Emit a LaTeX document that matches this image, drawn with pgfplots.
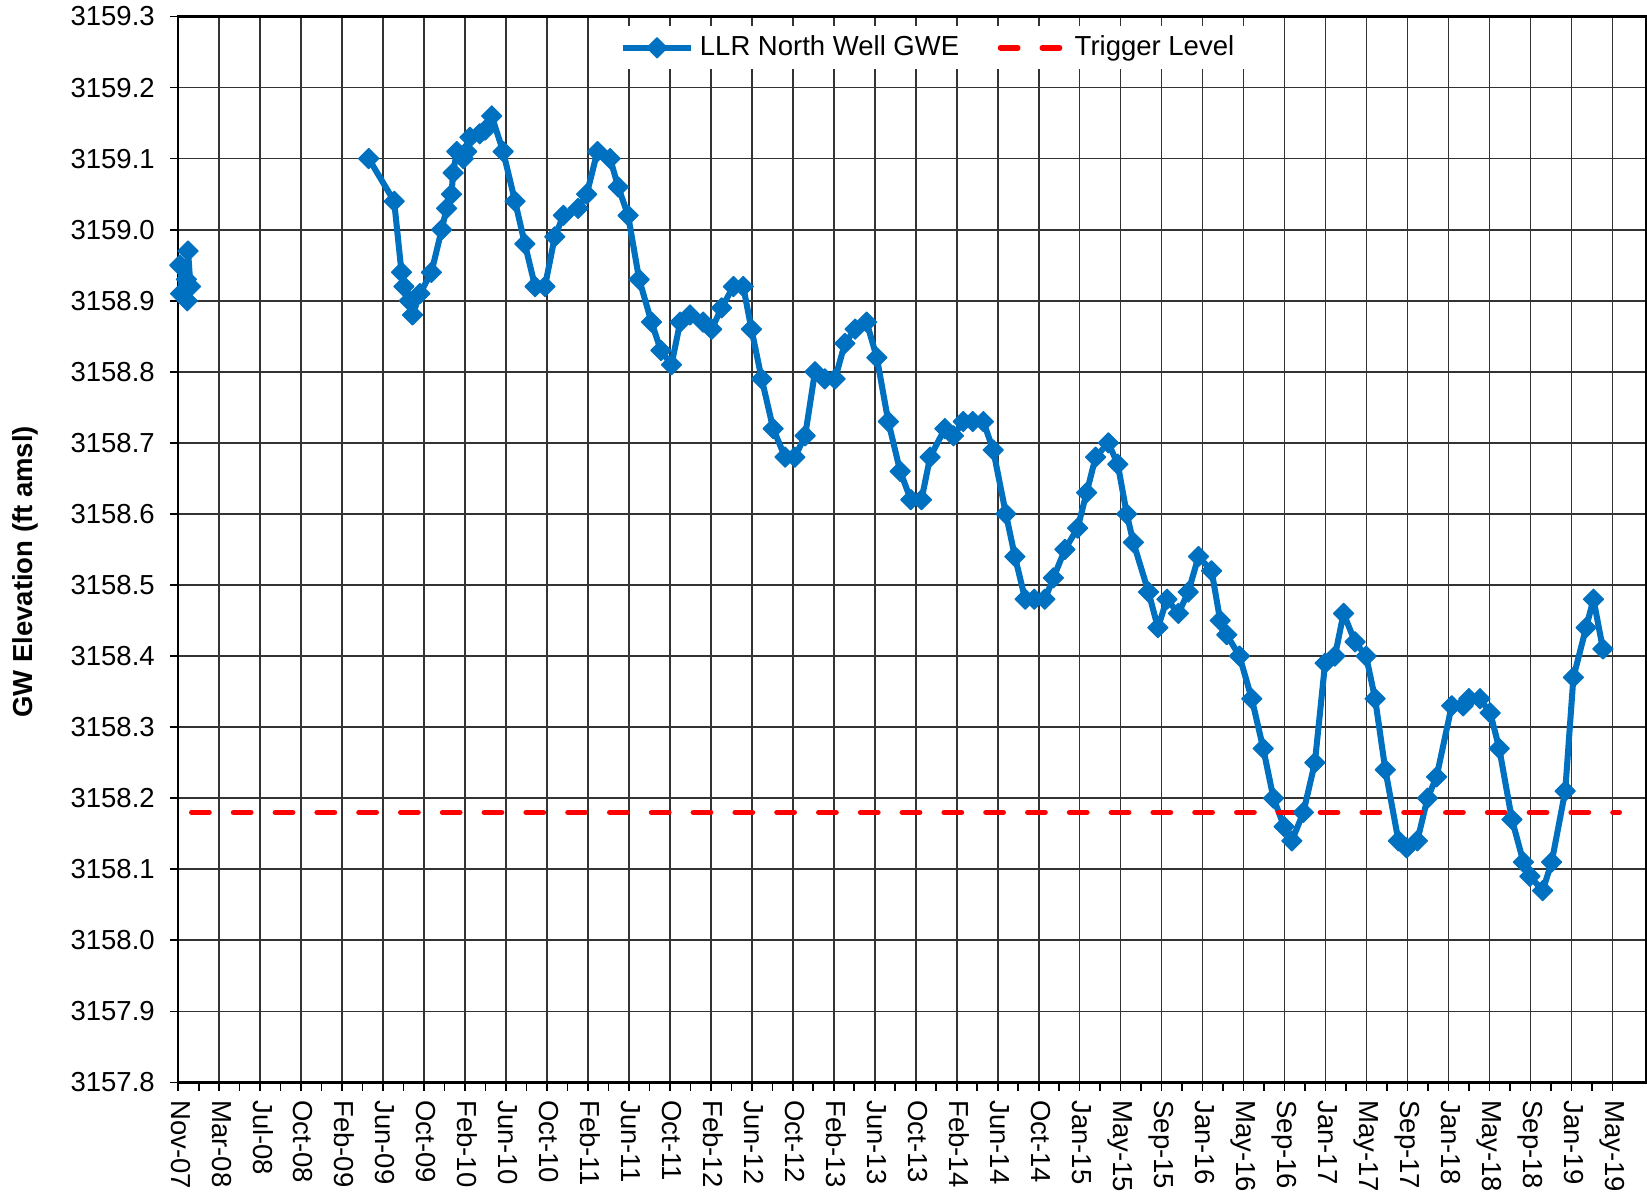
\documentclass[border=0pt]{standalone}
\usepackage{fontspec}
\setmainfont{Liberation Sans}
\usepackage{pgfplots}
\pgfplotsset{compat=1.18}
\usepackage{pgfplotstable}
\definecolor{xlblue}{RGB}{0,112,192}

\pgfplotsset{
  bluelegend/.style={legend image code/.code={\draw[##1, mark repeat=2, mark phase=2] plot coordinates {(0pt,0pt)(12.5pt,0pt)(25pt,0pt)};}},
  redlegend/.style={legend image code/.code={\draw[##1] (0pt,0pt) -- (24pt,0pt);}},
}

\pgfplotstableread{
x y
0.04 3158.95
0.06 3158.91
0.20 3158.93
0.22 3158.90
0.24 3158.97
0.30 3158.92
2.50 nan
4.65 3159.10
5.27 3159.04
5.45 3158.94
5.51 3158.92
5.64 3158.90
5.72 3158.88
5.90 3158.91
6.18 3158.94
6.43 3159.00
6.55 3159.03
6.67 3159.05
6.71 3159.08
6.80 3159.11
6.96 3159.10
7.04 3159.11
7.12 3159.13
7.36 3159.135
7.49 3159.14
7.65 3159.16
7.93 3159.11
8.22 3159.04
8.46 3158.98
8.71 3158.92
8.95 3158.92
9.19 3158.99
9.40 3159.02
9.76 3159.03
9.97 3159.05
10.23 3159.11
10.54 3159.10
10.74 3159.06
10.98 3159.02
11.25 3158.93
11.55 3158.87
11.78 3158.83
12.04 3158.81
12.25 3158.87
12.49 3158.88
12.81 3158.87
13.02 3158.86
13.26 3158.89
13.55 3158.92
13.79 3158.92
13.99 3158.86
14.24 3158.79
14.52 3158.72
14.81 3158.68
15.05 3158.68
15.30 3158.71
15.54 3158.80
15.78 3158.79
16.03 3158.79
16.27 3158.84
16.52 3158.86
16.80 3158.87
17.05 3158.82
17.33 3158.73
17.62 3158.66
17.88 3158.62
18.14 3158.62
18.35 3158.68
18.71 3158.72
18.92 3158.71
19.16 3158.73
19.39 3158.73
19.65 3158.73
19.89 3158.69
20.20 3158.60
20.42 3158.54
20.67 3158.48
20.89 3158.48
21.15 3158.48
21.36 3158.51
21.64 3158.55
21.95 3158.58
22.17 3158.63
22.39 3158.68
22.70 3158.70
22.93 3158.67
23.15 3158.60
23.31 3158.56
23.68 3158.49
23.91 3158.44
24.13 3158.48
24.41 3158.46
24.65 3158.49
24.90 3158.54
25.22 3158.52
25.43 3158.45
25.59 3158.43
25.90 3158.40
26.20 3158.34
26.48 3158.27
26.73 3158.20
26.99 3158.16
27.18 3158.14
27.46 3158.18
27.74 3158.25
27.99 3158.39
28.23 3158.40
28.44 3158.46
28.72 3158.42
28.99 3158.40
29.21 3158.34
29.46 3158.24
29.78 3158.14
29.98 3158.13
30.24 3158.14
30.49 3158.20
30.71 3158.23
31.08 3158.33
31.36 3158.33
31.50 3158.34
31.77 3158.34
32.02 3158.32
32.24 3158.27
32.55 3158.17
32.83 3158.11
32.99 3158.09
33.30 3158.07
33.52 3158.11
33.85 3158.21
34.05 3158.37
34.36 3158.44
34.54 3158.48
34.77 3158.41
}\gwe

\pgfplotstableread{
x y
0.33 3158.18
35.17 3158.18
}\trigger

\begin{document}
\begin{tikzpicture}
\useasboundingbox (0,0) rectangle (598.9pt,434.9pt);
\begin{axis}[
  at={(64.8pt,41.3pt)}, anchor=south west,
  scale only axis, width=533.7pt, height=387.6pt,
  xmin=0, xmax=35.82, ymin=3157.8, ymax=3159.3,
  xtick={0,...,35},
  xticklabels={Nov-07,Mar-08,Jul-08,Oct-08,Feb-09,Jun-09,Oct-09,Feb-10,Jun-10,Oct-10,Feb-11,Jun-11,Oct-11,Feb-12,Jun-12,Oct-12,Feb-13,Jun-13,Oct-13,Feb-14,Jun-14,Oct-14,Jan-15,May-15,Sep-15,Jan-16,May-16,Sep-16,Jan-17,May-17,Sep-17,Jan-18,May-18,Sep-18,Jan-19,May-19},
  minor x tick num=1,
  ytick={3157.8,3157.9,3158.0,3158.1,3158.2,3158.3,3158.4,3158.5,3158.6,3158.7,3158.8,3158.9,3159.0,3159.1,3159.2,3159.3},
  scaled y ticks=false,
  /pgf/number format/assume math mode=true,
  yticklabel style={/pgf/number format/fixed, /pgf/number format/fixed zerofill, /pgf/number format/precision=1, /pgf/number format/1000 sep={}, xshift=-2pt},
  xticklabel style={rotate=-90, anchor=west, text height=0.72em, text depth=0.2em},
  tick label style={font=\normalsize},
  grid=major,
  major grid style={line width=0.6pt, black!80},
  tick align=outside, xtick pos=bottom, ytick pos=left,
  major tick length=3pt, minor tick length=3pt,
  tick style={black, line width=0.6pt},
  axis line style={black, line width=0.8pt},
  ylabel={\bfseries GW Elevation (ft amsl)},
  ylabel style={at={(axis description cs:-0.1043,0.479)}, anchor=center},
  legend style={at={(axis description cs:0.512,0.9706)}, anchor=center, draw=none, fill=white,
    inner xsep=8pt, inner ysep=1.5pt, font=\normalsize,
    /tikz/every even column/.append style={column sep=12pt}},
  legend columns=2, legend cell align=left,
]
\addplot[xlblue, line width=2.2pt, line join=round, mark=square*, mark size=2.6pt,
  mark options={rotate=45, solid, fill=xlblue, line width=0.4pt}, unbounded coords=jump, bluelegend]
  table[x=x,y=y] {\gwe};
\addlegendentry{LLR North Well GWE}
\addplot[red, line width=2pt, line cap=round, dash pattern=on 6.3pt off 8.9pt, redlegend]
  table[x=x,y=y] {\trigger};
\addlegendentry{Trigger Level}
\end{axis}
\end{tikzpicture}
\end{document}
